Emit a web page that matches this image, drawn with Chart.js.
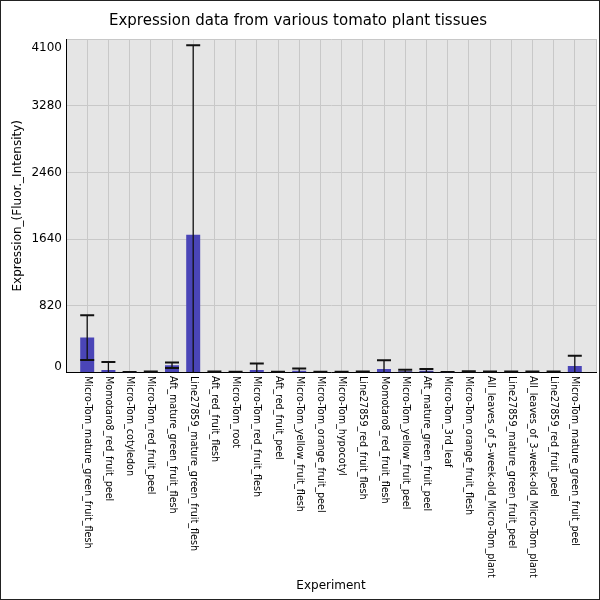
<!DOCTYPE html>
<html>
<head>
<meta charset="utf-8">
<title>Expression data from various tomato plant tissues</title>
<script src="https://cdn.jsdelivr.net/npm/chart.js@4.4.0/dist/chart.umd.min.js"></script>
<style>
  body { margin: 0; background: #fff; }
  #wrap { width: 600px; height: 600px; }
</style>
</head>
<body>
<div id="wrap"><canvas id="chart" width="600" height="600"></canvas></div>
<script>
let experiments = [
  "Micro-Tom_mature_green_fruit_flesh",
  "Momotaro8_red_fruit_peel",
  "Micro-Tom_cotyledon",
  "Micro-Tom_red_fruit_peel",
  "Aft_mature_green_fruit_flesh",
  "Line27859_mature_green_fruit_flesh",
  "Aft_red_fruit_flesh",
  "Micro-Tom_root",
  "Micro-Tom_red_fruit_flesh",
  "Aft_red_fruit_peel",
  "Micro-Tom_yellow_fruit_flesh",
  "Micro-Tom_orange_fruit_peel",
  "Micro-Tom_hypocotyl",
  "Line27859_red_fruit_flesh",
  "Momotaro8_red_fruit_flesh",
  "Micro-Tom_yellow_fruit_peel",
  "Aft_mature_green_fruit_peel",
  "Micro-Tom_3rd_leaf",
  "Micro-Tom_orange_fruit_flesh",
  "All_leaves_of_5-week-old_Micro-Tom_plant",
  "Line27859_mature_green_fruit_peel",
  "All_leaves_of_3-week-old_Micro-Tom_plant",
  "Line27859_red_fruit_peel",
  "Micro-Tom_mature_green_fruit_peel",
];
let expression = [430, 30, 4, 6, 90, 1694, 6, 5, 30, 5, 22, 5, 5, 6, 42, 15, 20, 3, 8, 7, 6, 6, 6, 80];
let errors = [275, 100, 3, 5, 34, 2330, 5, 4, 82, 4, 28, 4, 4, 5, 110, 18, 22, 2, 6, 5, 5, 5, 5, 125];
let yTicks = [0, 820, 1640, 2460, 3280, 4100];

const FONT = "'DejaVu Sans', sans-serif";

// one empty slot on each side so the bars sit a full step in from the frame
let xLabels = ["", ...experiments, ""];
let barData = [null, ...expression, null];

const panelBackground = {
  id: "panelBackground",
  beforeDraw(chart) {
    let { ctx, chartArea: a } = chart;
    ctx.save();
    ctx.fillStyle = "#e5e5e5";
    ctx.fillRect(a.left, a.top, a.right - a.left, a.bottom - a.top);
    ctx.restore();
  },
};

const errorBars = {
  id: "errorBars",
  afterDatasetsDraw(chart) {
    let { ctx, chartArea: a } = chart;
    let y = chart.scales.y;
    let meta = chart.getDatasetMeta(0);
    ctx.save();
    ctx.beginPath();
    ctx.rect(a.left, a.top - 3, a.right - a.left, a.bottom - a.top + 3);
    ctx.clip();
    ctx.strokeStyle = "#111";
    expression.forEach((v, i) => {
      let bar = meta.data[i + 1];
      let hi = y.getPixelForValue(v + errors[i]);
      let lo = y.getPixelForValue(v - errors[i]);
      let half = bar.width / 2;
      ctx.lineWidth = 1.3;
      ctx.beginPath();
      ctx.moveTo(bar.x, hi);
      ctx.lineTo(bar.x, lo);
      ctx.stroke();
      ctx.lineWidth = 2;
      ctx.beginPath();
      ctx.moveTo(bar.x - half, hi);
      ctx.lineTo(bar.x + half, hi);
      ctx.moveTo(bar.x - half, lo);
      ctx.lineTo(bar.x + half, lo);
      ctx.stroke();
    });
    ctx.restore();
  },
};

// tick text: y labels kept inside the axis span, x labels turned clockwise
const tickText = {
  id: "tickText",
  afterDraw(chart) {
    let { ctx, chartArea: a } = chart;
    let x = chart.scales.x, y = chart.scales.y;
    ctx.save();
    ctx.fillStyle = "#000";
    ctx.font = "12px " + FONT;
    ctx.textAlign = "right";
    ctx.textBaseline = "middle";
    yTicks.forEach((v) => {
      let py = y.getPixelForValue(v);
      py = Math.min(Math.max(py, a.top + 9), a.bottom - 5.5);
      ctx.fillText(String(v), a.left - 4, py);
    });
    ctx.font = "9.6px " + FONT;
    ctx.textAlign = "left";
    experiments.forEach((name, i) => {
      ctx.save();
      ctx.translate(x.getPixelForValue(i + 1), a.bottom + 3.5);
      ctx.rotate(Math.PI / 2);
      ctx.fillText(name, 0, 0);
      ctx.restore();
    });
    // thin frame round the whole picture
    ctx.strokeStyle = "#222";
    ctx.lineWidth = 1;
    ctx.strokeRect(0.5, 0.5, 599, 599);
    ctx.restore();
  },
};

const chart = new Chart(document.querySelector("#chart"), {
  type: "bar",
  data: {
    labels: xLabels,
    datasets: [
      {
        label: "Expression",
        data: barData,
        backgroundColor: "#4a45b7",
        borderWidth: 0,
        barPercentage: 0.66,
        categoryPercentage: 1,
      },
    ],
  },
  options: {
    responsive: false,
    animation: false,
    layout: { padding: { top: 0, left: 0, right: 4, bottom: 7 } },
    plugins: {
      legend: { display: false },
      tooltip: { enabled: false },
      title: {
        display: true,
        text: "Expression data from various tomato plant tissues",
        color: "#000",
        font: { family: FONT, size: 15, weight: "normal" },
        padding: { top: 12, bottom: 9 },
      },
    },
    scales: {
      x: {
        type: "category",
        offset: false,
        grid: { offset: false, color: "#c8c8c8", lineWidth: 1, drawTicks: false },
        border: { display: true, color: "#000", width: 1 },
        ticks: { display: false },
        title: {
          display: true,
          text: "Experiment",
          color: "#000",
          font: { family: FONT, size: 12 },
          padding: { top: 0, bottom: 0 },
        },
        afterFit: (scale) => {
          scale.height = 220.5;
        },
      },
      y: {
        type: "linear",
        min: 0,
        max: 4100,
        grid: { color: "#c8c8c8", lineWidth: 1, drawTicks: false },
        border: { display: true, color: "#000", width: 1 },
        ticks: { display: false },
        afterBuildTicks: (scale) => {
          scale.ticks = yTicks.map((v) => ({ value: v }));
        },
        title: {
          display: true,
          text: "Expression_(Fluor._Intensity)",
          color: "#000",
          font: { family: FONT, size: 12 },
          padding: { top: 11, bottom: 0 },
        },
        afterFit: (scale) => {
          scale.width = 66;
        },
      },
    },
  },
  plugins: [panelBackground, errorBars, tickText],
});
</script>
</body>
</html>
